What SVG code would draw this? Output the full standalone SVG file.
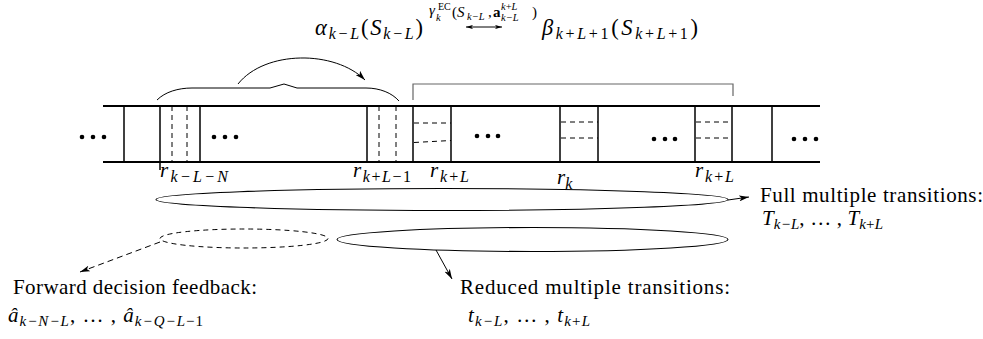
<svg xmlns="http://www.w3.org/2000/svg" width="983" height="339" viewBox="0 0 983 339" font-family="'Liberation Serif', serif">
<defs>
<style>
text{font-family:'Liberation Serif', serif}
.t{fill:#000}
.mi{font-style:italic}
.up{font-style:normal}
.ln{stroke:#000;fill:none}
.thick{stroke-width:2}
.v{stroke-width:1.5}
.dash{stroke-dasharray:5 4;stroke-width:1}
.dot{fill:#000}
</style>
<marker id="ah" viewBox="0 0 10 6" refX="10" refY="3" markerWidth="10" markerHeight="6" markerUnits="userSpaceOnUse" orient="auto">
<path d="M0,0 L10,3 L0,6 L2.5,3 z" fill="#000"/>
</marker>
<marker id="ah2" viewBox="0 0 10 6" refX="10" refY="3" markerWidth="7" markerHeight="4.5" markerUnits="userSpaceOnUse" orient="auto-start-reverse">
<path d="M0,0 L10,3 L0,6 L2.5,3 z" fill="#000"/>
</marker>
</defs>
<rect width="983" height="339" fill="#fff"/>

<g id="formula">
<text class="t mi" x="315" y="35" font-size="22.5" textLength="108" lengthAdjust="spacing">α<tspan font-size="16" dy="4">k−L</tspan><tspan class="up" dy="-4">(</tspan>S<tspan font-size="16" dy="4">k−L</tspan><tspan class="up" dy="-4">)</tspan></text>
<text class="t mi" font-size="15"><tspan x="429" y="15">γ</tspan><tspan x="438" y="10" font-size="10" class="up">EC</tspan><tspan x="436" y="21" font-size="10.5">k</tspan><tspan x="452" y="17" class="up">(</tspan><tspan x="457" y="17">S</tspan><tspan x="467" y="20" font-size="10.5">k−L</tspan><tspan x="488" y="17" class="up">,</tspan><tspan x="493" y="17" class="up" font-weight="bold">a</tspan><tspan x="501" y="10" font-size="10.5">k<tspan class="up">+</tspan>L</tspan><tspan x="501" y="21" font-size="10.5">k−L</tspan><tspan x="532" y="17" class="up">)</tspan></text>
<line class="ln" x1="466" y1="27" x2="502" y2="27" stroke-width="1" marker-start="url(#ah2)" marker-end="url(#ah2)"/>
<text class="t mi" x="542" y="35" font-size="22.5" textLength="156" lengthAdjust="spacing">β<tspan font-size="16" dy="4">k<tspan class="up">+</tspan>L<tspan class="up">+1</tspan></tspan><tspan class="up" dy="-4">(</tspan>S<tspan font-size="16" dy="4">k<tspan class="up">+</tspan>L<tspan class="up">+1</tspan></tspan><tspan class="up" dy="-4">)</tspan></text>
</g>

<g id="ribbon">
<line class="ln thick" x1="103" y1="106" x2="820" y2="106"/>
<line class="ln thick" x1="103" y1="162" x2="820" y2="162"/>
<g class="ln v">
<line x1="124" y1="106" x2="124" y2="162"/>
<line x1="160" y1="106" x2="160" y2="170"/>
<line x1="200" y1="106" x2="200" y2="162"/>
<line x1="367" y1="106" x2="367" y2="162"/>
<line x1="413" y1="106" x2="413" y2="162"/>
<line x1="451" y1="106" x2="451" y2="162"/>
<line x1="560" y1="106" x2="560" y2="162"/>
<line x1="598" y1="106" x2="598" y2="162"/>
<line x1="695" y1="106" x2="695" y2="162"/>
<line x1="732" y1="106" x2="732" y2="162"/>
<line x1="772" y1="106" x2="772" y2="162"/>
</g>
<g class="ln dash">
<line x1="172" y1="106" x2="172" y2="162"/>
<line x1="187" y1="106" x2="187" y2="162"/>
<line x1="379" y1="106" x2="379" y2="162"/>
<line x1="396" y1="106" x2="396" y2="162"/>
<line x1="414" y1="123" x2="451" y2="123"/>
<line x1="414" y1="142.5" x2="451" y2="140.5"/>
<line x1="561" y1="122" x2="598" y2="122"/>
<line x1="561" y1="138" x2="598" y2="138"/>
<line x1="696" y1="122" x2="732" y2="122"/>
<line x1="696" y1="138" x2="732" y2="138"/>
</g>
<g class="dot">
<circle cx="82" cy="137" r="2.3"/><circle cx="93" cy="137" r="2.3"/><circle cx="104" cy="137" r="2.3"/>
<circle cx="214" cy="137" r="2.3"/><circle cx="225" cy="137" r="2.3"/><circle cx="236" cy="137" r="2.3"/>
<circle cx="477" cy="136" r="2.3"/><circle cx="488" cy="136" r="2.3"/><circle cx="498" cy="136" r="2.3"/>
<circle cx="654" cy="139" r="2.3"/><circle cx="665" cy="139" r="2.3"/><circle cx="675" cy="139" r="2.3"/>
<circle cx="794" cy="139" r="2.3"/><circle cx="805" cy="139" r="2.3"/><circle cx="816" cy="139" r="2.3"/>
</g>
</g>

<g id="brace">
<path class="ln" stroke-width="1" d="M157,100 C165,92 178,88 192,88 L270,88 L284,84 L297,88 L366,88 C380,88 392,93 399,101"/>
</g>
<g id="bracket">
<path d="M413,100 V84 H733 V96" fill="none" stroke="#666" stroke-width="1.2"/>
</g>

<g id="ribbon-labels">
<text class="t mi" x="160" y="177" font-size="21" textLength="68" lengthAdjust="spacing">r<tspan font-size="16" dy="5">k−L−N</tspan></text>
<text class="t mi" x="353" y="177" font-size="21" textLength="58" lengthAdjust="spacing">r<tspan font-size="16" dy="5">k<tspan class="up">+</tspan>L<tspan class="up">−1</tspan></tspan></text>
<text class="t mi" x="430" y="177" font-size="21" textLength="39" lengthAdjust="spacing">r<tspan font-size="16" dy="5">k<tspan class="up">+</tspan>L</tspan></text>
<text class="t mi" x="557" y="184" font-size="21">r<tspan font-size="16" dy="5">k</tspan></text>
<text class="t mi" x="695" y="177" font-size="21" textLength="39" lengthAdjust="spacing">r<tspan font-size="16" dy="5">k<tspan class="up">+</tspan>L</tspan></text>
</g>

<g id="full-ellipse">
<ellipse class="ln" stroke-width="1.1" cx="442" cy="199.5" rx="286" ry="11"/>
</g>
<g id="reduced-ellipse">
<ellipse class="ln" stroke-width="1.1" cx="532.5" cy="239.5" rx="195.5" ry="12"/>
</g>
<g id="feedback-ellipse">
<ellipse class="ln dash" stroke-dasharray="6 4" cx="244" cy="238.5" rx="84" ry="9.5"/>
</g>

<g id="full-label">
<text class="t" x="760" y="202" font-size="21" textLength="223" lengthAdjust="spacing">Full multiple transitions:</text>
<text class="t mi" x="762" y="225" font-size="21" textLength="121" lengthAdjust="spacing">T<tspan font-size="15" dy="4">k−L</tspan><tspan class="up" dy="-4">, … , </tspan>T<tspan font-size="15" dy="4">k<tspan class="up">+</tspan>L</tspan></text>
</g>
<g id="feedback-label">
<text class="t" x="13" y="294" font-size="21" textLength="244" lengthAdjust="spacing">Forward decision feedback:</text>
<text class="t mi" x="8" y="322" font-size="21" textLength="195" lengthAdjust="spacing">â<tspan font-size="15" dy="4">k−N−L</tspan><tspan class="up" dy="-4">, … , </tspan>â<tspan font-size="15" dy="4">k−Q−L<tspan class="up">−1</tspan></tspan></text>
</g>
<g id="reduced-label">
<text class="t" x="460" y="294" font-size="21" textLength="270" lengthAdjust="spacing">Reduced multiple transitions:</text>
<text class="t mi" x="468" y="322" font-size="21" textLength="122" lengthAdjust="spacing">t<tspan font-size="15" dy="4">k−L</tspan><tspan class="up" dy="-4">, … , </tspan>t<tspan font-size="15" dy="4">k<tspan class="up">+</tspan>L</tspan></text>
</g>

<g id="connectors" class="ln" stroke-width="1">
<path d="M238,84 C265,50 335,50 365,80" marker-end="url(#ah)"/>
<line x1="728" y1="200" x2="749" y2="197" marker-end="url(#ah)"/>
<line x1="436" y1="250" x2="452" y2="279" marker-end="url(#ah)"/>
<line x1="160" y1="242" x2="80" y2="272" stroke-dasharray="6 4" marker-end="url(#ah)"/>
</g>
</svg>
